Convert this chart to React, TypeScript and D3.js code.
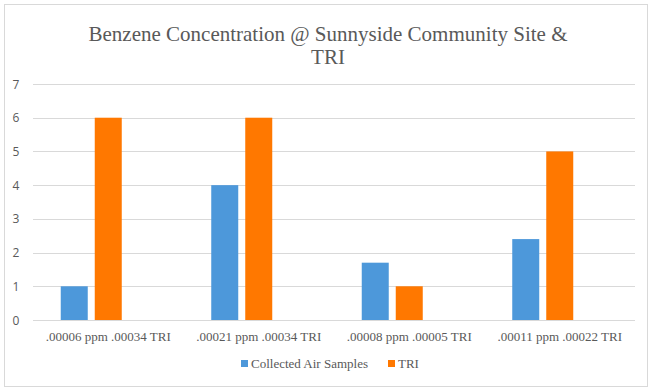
import React from 'react';
import * as d3 from 'd3';

const categories = ['.00006 ppm .00034 TRI', '.00021 ppm .00034 TRI', '.00008 ppm .00005 TRI', '.00011 ppm .00022 TRI'];
const airSamples = [1, 4, 1.7, 2.4];
const triValues = [6, 6, 1, 5];
// third slot is an empty series in the original sheet, so bars sit left of centre
const slots = ['Collected Air Samples', 'TRI', 'blank'];
const yTicks = [0, 1, 2, 3, 4, 5, 6, 7];
const titleLines = ['Benzene Concentration @ Sunnyside Community Site &', 'TRI'];

const colors: Record<string, string> = {
    'Collected Air Samples': '#4d98da',
    TRI: '#ff7800',
};

const SERIF = 'Liberation Serif';
const SANS = 'Open Sans';
const W = 656;
const H = 392;

const App: React.FC = () => {
    const margin = { top: 84, right: 21, bottom: 72, left: 33 };
    const width = W - margin.left - margin.right;
    const height = H - margin.top - margin.bottom;

    const y = d3.scaleLinear().domain([0, 7]).range([height, 0]);
    const x0 = d3.scaleBand().domain(categories).range([0, width]).padding(0);
    const x1 = d3.scaleBand().domain(slots).range([0, x0.bandwidth()]).paddingInner(0.206).paddingOuter(0.816);

    const rows = categories.map((c, i) => ({
        cat: c,
        vals: [
            { key: 'Collected Air Samples', value: airSamples[i] },
            { key: 'TRI', value: triValues[i] },
        ],
    }));

    const legendItems = [
        { key: 'Collected Air Samples', x: 241 },
        { key: 'TRI', x: 388 },
    ];

    return (
        <svg width={W} height={H} style={{ display: 'block', position: 'absolute', left: 0, top: 0 }}>
            <rect x={4.5} y={4.5} width={643} height={382} fill="#fff" stroke="#d9d9d9" />
            <text textAnchor="middle" fontFamily={SERIF} fontSize={21} fill="#595959">
                {titleLines.map((line, i) => (
                    <tspan key={i} x={328} y={41 + i * 23}>{line}</tspan>
                ))}
            </text>
            <g transform={`translate(${margin.left}, ${margin.top})`}>
                {yTicks.map((t) => (
                    <line key={'g' + t} x1={0} x2={width} y1={Math.round(y(t)) + 0.5} y2={Math.round(y(t)) + 0.5}
                        stroke="#d9d9d9" strokeWidth={1} />
                ))}
                {yTicks.map((t) => (
                    <text key={'t' + t} x={-17} y={y(t) + 4.5} textAnchor="middle" fontFamily={SANS} fontSize={12} fill="#595959">
                        {t}
                    </text>
                ))}
                {rows.map((r) => (
                    <g key={r.cat} transform={`translate(${x0(r.cat)}, 0)`}>
                        {r.vals.map((v) => (
                            <rect key={v.key} x={x1(v.key)} y={y(v.value)} width={x1.bandwidth()}
                                height={height - y(v.value)} fill={colors[v.key]} />
                        ))}
                    </g>
                ))}
                {categories.map((c) => (
                    <text key={c} x={(x0(c) as number) + x0.bandwidth() / 2} y={height + 21} textAnchor="middle"
                        fontFamily={SERIF} fontSize={13} fill="#595959">
                        {c}
                    </text>
                ))}
            </g>
            {legendItems.map((it) => (
                <g key={it.key}>
                    <rect x={it.x} y={360} width={7} height={7} fill={colors[it.key]} />
                    <text x={it.x + 10} y={368} fontFamily={SERIF} fontSize={13} fill="#595959">{it.key}</text>
                </g>
            ))}
        </svg>
    );
};

export default App;
